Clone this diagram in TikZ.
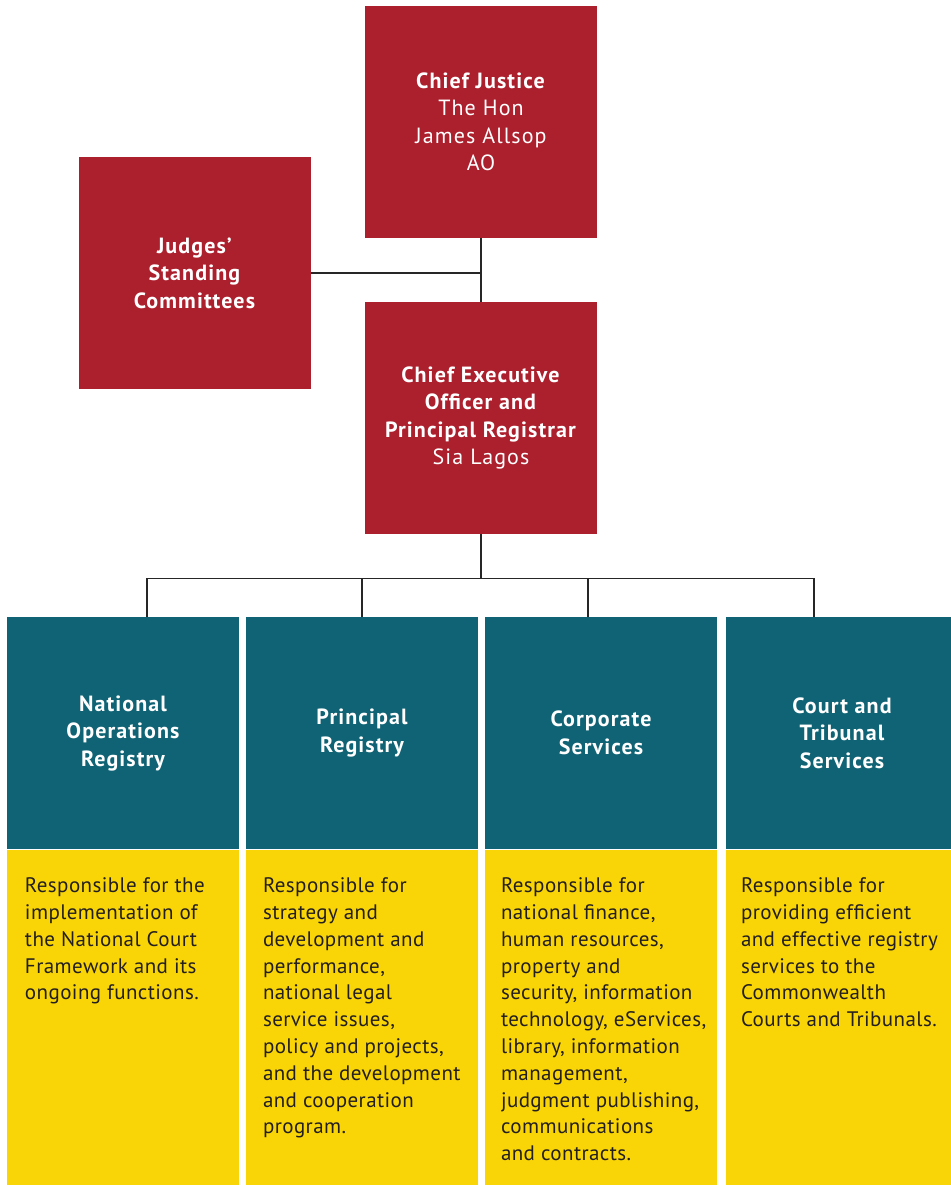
\documentclass[tikz,border=0pt]{standalone}
\usepackage{fontspec}
\setmainfont{PT Sans}
\newfontfamily\headfont{PT Sans}[LetterSpace=5.0]
\newfontfamily\dutyfont{PT Sans}[LetterSpace=2.0]
\usetikzlibrary{positioning,calc}

\definecolor{courtred}{HTML}{AC1F2D}
\definecolor{courtteal}{HTML}{106374}
\definecolor{courtyellow}{HTML}{F9D508}
\definecolor{courtink}{HTML}{231F20}

\tikzset{
  redbox/.style={fill=courtred, text=white, minimum width=116pt, minimum height=116pt,
    align=center, inner sep=0pt, font=\headfont\fontsize{11}{13.75}\selectfont},
  tealbox/.style={fill=courtteal, text=white, minimum width=116pt, minimum height=116pt,
    align=center, inner sep=0pt, font=\headfont\bfseries\fontsize{11}{13.75}\selectfont},
  dutybox/.style={fill=courtyellow, minimum width=116pt, minimum height=168pt, inner sep=0pt},
  duty/.style={text=courtink, align=left, anchor=north west, inner sep=0pt,
    font=\dutyfont\fontsize{10.5}{13.4}\selectfont},
  link/.style={line width=0.7pt, draw=black!85}
}

\begin{document}
\begin{tikzpicture}[x=0.5pt, y=-0.5pt]
  %%%%% START %%%%%
  \useasboundingbox (0,0) rectangle (951,1185);

  % judges and executive
  \node[redbox] (cj) at (481,122) {\textbf{Chief Justice}\\The Hon\\James Allsop\\AO};
  \node[redbox] (judges) at (195,273) {\textbf{Judges’}\\\textbf{Standing}\\\textbf{Committees}};
  \node[redbox] (ceo) at (481,418) {\textbf{Chief Executive}\\\textbf{Officer and}\\\textbf{Principal Registrar}\\Sia Lagos};

  \draw[link] (cj.south) -- (ceo.north);
  \draw[link] (judges.east) -- (judges.east -| cj.south);

  % the four areas
  \node[tealbox] (nor) at (123,733) {National\\Operations\\Registry};
  \node[tealbox] (pr) at (362,733) {Principal\\Registry};
  \node[tealbox] (cs) at (601,733) {Corporate\\Services};
  \node[tealbox] (cts) at (842,733) {Court and\\Tribunal\\Services};

  \node[dutybox, below=0pt of nor] (nordesc) {};
  \node[dutybox, below=0pt of pr] (prdesc) {};
  \node[dutybox, below=0pt of cs] (csdesc) {};
  \node[dutybox, below=0pt of cts] (ctsdesc) {};

  \node[duty] (nortext) at ($(nordesc.north west)+(18,28)$) {Responsible for the\\implementation of\\the National Court\\Framework and its\\ongoing functions.};
  \node[duty] (prtext) at ($(prdesc.north west)+(17,28)$) {Responsible for\\strategy and\\development and\\performance,\\national legal\\service issues,\\policy and projects,\\and the development\\and cooperation\\program.};
  \node[duty] (cstext) at ($(csdesc.north west)+(16,28)$) {Responsible for\\national finance,\\human resources,\\property and\\security, information\\technology, eServices,\\library, information\\management,\\judgment publishing,\\communications\\and contracts.};
  \node[duty] (ctstext) at ($(ctsdesc.north west)+(15,28)$) {Responsible for\\providing efficient\\and effective registry\\services to the\\Commonwealth\\Courts and Tribunals.};

  % bus to the areas
  \coordinate (bus) at ($(ceo.south)+(0,44)$);
  \draw[link] (ceo.south) -- (bus);
  \draw[link] ($(nor.north)+(24,0)$) |- (bus) -| ($(cts.north)+(-28,0)$);
  \draw[link] (pr.north) -- (pr.north |- bus);
  \draw[link] ($(cs.north)+(-13,0)$) -- ($(cs.north)+(-13,-39)$);
  %%%%% END %%%%%
\end{tikzpicture}
\end{document}
